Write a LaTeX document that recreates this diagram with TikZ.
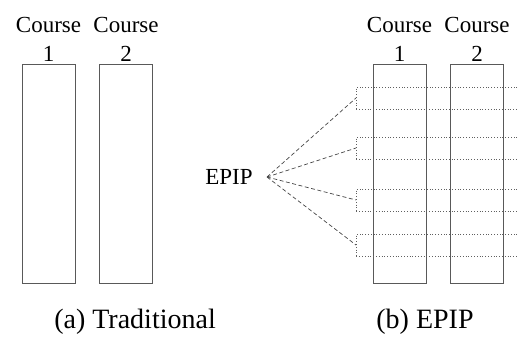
\documentclass[tikz,border=0pt]{standalone}
\usepackage{fontspec}
\setmainfont{LiberationSerif}[Extension=.ttf, UprightFont=*-Regular,
  BoldFont=*-Bold, ItalicFont=*-Italic, BoldItalicFont=*-BoldItalic]
\usetikzlibrary{positioning}

\begin{document}
\begin{tikzpicture}[x=1pt, y=1pt, font=\rmfamily\fontsize{23}{29}\selectfont,
  course/.style={draw=gray!70!black, line width=0.8pt, minimum width=53pt,
                 minimum height=219pt, inner sep=0pt},
  clabel/.style={align=center, inner sep=1pt},
  slot/.style={draw=gray!75!black, dotted, line width=0.8pt, minimum width=180pt,
               minimum height=22pt, inner sep=0pt, anchor=west},
  link/.style={dash pattern=on 4pt off 2.5pt, gray!55!black, line width=0.7pt},
  capt/.style={font=\rmfamily\fontsize{28}{32}\selectfont}
]
\useasboundingbox (0,0) rectangle (518,-341);
\clip (0,0) rectangle (518,-341);

% (a) traditional: two courses side by side
\node[course] (t1) at (48.5,-173.5) {};
\node[course] (t2) at (126,-173.5)  {};
\node[clabel, above=1pt of t1] (t1l) {Course\\1};
\node[clabel, above=1pt of t2] (t2l) {Course\\2};

% (b) EPIP: same courses, crossed by shared slots
\node[course] (e1) at (399.5,-173.5) {};
\node[course] (e2) at (477,-173.5)   {};
\node[clabel, above=1pt of e1] (e1l) {Course\\1};
\node[clabel, above=1pt of e2] (e2l) {Course\\2};

\node[slot] (s1) at (356,-98)  {};
\node[slot] (s2) at (356,-148) {};
\node[slot] (s3) at (356,-200) {};
\node[slot] (s4) at (356,-245) {};

\node (epip) at (229,-177) {EPIP};
\coordinate (fan) at (267,-177);
\foreach \s in {s1,s2,s3,s4} \draw[link] (fan) -- (\s.west);

% captions
\node[capt] (capa) at (135,-322) {(a) Traditional};
\node[capt] (capb) at (425,-322) {(b) EPIP};
\end{tikzpicture}
\end{document}
